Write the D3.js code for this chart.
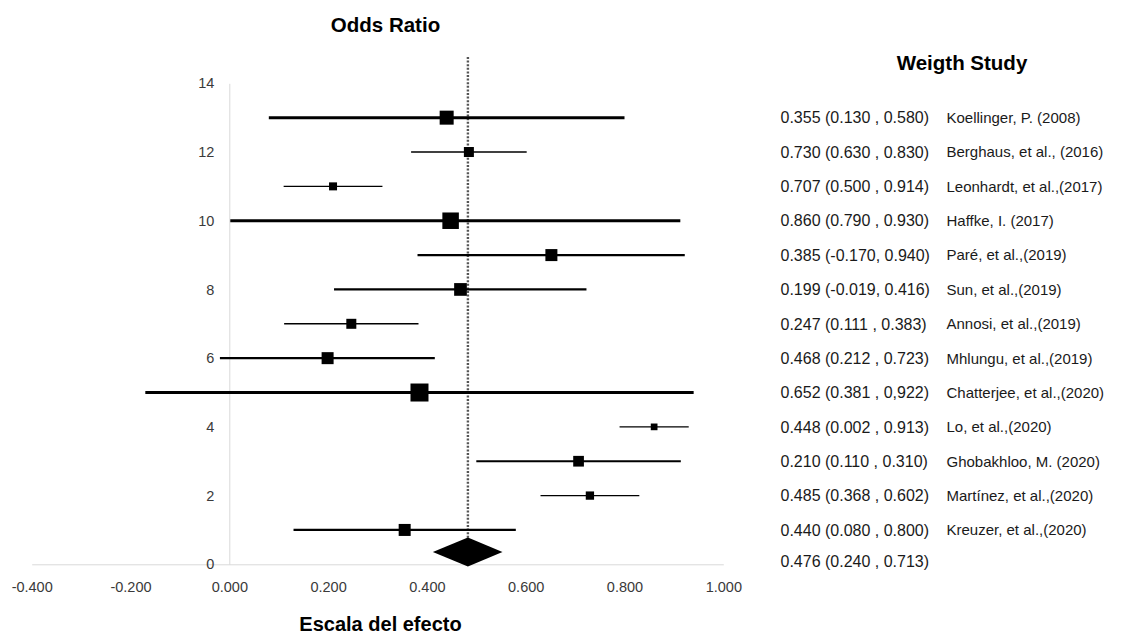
<!DOCTYPE html>
<html>
<head>
<meta charset="utf-8">
<script src="https://cdn.jsdelivr.net/npm/d3@7"></script>
<style>
  body { margin: 0; background: #fff; }
  svg { display: block; font-family: "Liberation Sans", Arial, sans-serif; }
</style>
</head>
<body>
<svg id="chart" width="1121" height="634"></svg>
<script>
// studies, bottom row (y = 1) first
var studies = ["Koellinger, P. (2008)", "Berghaus, et al., (2016)", "Leonhardt, et al.,(2017)", "Haffke, I. (2017)",
    "Paré, et al.,(2019)", "Sun, et al.,(2019)", "Annosi, et al.,(2019)", "Mhlungu, et al.,(2019)",
    "Chatterjee, et al.,(2020)", "Lo, et al.,(2020)", "Ghobakhloo, M. (2020)", "Martínez, et al.,(2020)",
    "Kreuzer, et al.,(2020)"];
var estimate = [0.355, 0.730, 0.707, 0.860, 0.385, 0.199, 0.247, 0.468, 0.652, 0.448, 0.210, 0.485, 0.440];
var lower    = [0.130, 0.630, 0.500, 0.790, -0.170, -0.019, 0.111, 0.212, 0.381, 0.002, 0.110, 0.368, 0.080];
var upper    = [0.580, 0.830, 0.914, 0.930, 0.940, 0.416, 0.383, 0.723, 0.922, 0.913, 0.310, 0.602, 0.800];
// relative study weight
var weight   = [12, 8.3, 10.7, 6.7, 18, 12, 10, 12.7, 12, 16.5, 8, 10, 14];
// label column text, listed top to bottom as printed
var ciText = ["0.355 (0.130 , 0.580)", "0.730 (0.630 , 0.830)", "0.707 (0.500 , 0.914)", "0.860 (0.790 , 0.930)",
    "0.385 (-0.170, 0.940)", "0.199 (-0.019, 0.416)", "0.247 (0.111 , 0.383)", "0.468 (0.212 , 0.723)",
    "0.652 (0.381 , 0,922)", "0.448 (0.002 , 0.913)", "0.210 (0.110 , 0.310)", "0.485 (0.368 , 0.602)",
    "0.440 (0.080 , 0.800)"];
var pooledText = "0.476 (0.240 , 0.713)";
// pooled diamond as drawn
var pooledX = [0.412, 0.483, 0.553];
var pooledRow = 0.36;
var refLine = 0.483;

var xTicks = [-0.4, -0.2, 0, 0.2, 0.4, 0.6, 0.8, 1.0];
var yTicks = [0, 2, 4, 6, 8, 10, 12, 14];

var svg = d3.select("#chart");

var x = d3.scaleLinear().domain([-0.4, 1.0]).range([31.7, 723.3]);
var y = d3.scaleLinear().domain([0, 14]).range([564.3, 83.3]);
var size = d3.scaleLinear().domain([0, d3.max(weight)]).range([0, 18]);
var lineW = d3.scaleThreshold().domain([10.5, 13.5]).range([1.4, 2.2, 3]);

//// axes
var xAxis = d3.axisBottom(x).tickValues(xTicks).tickSize(0)
    .tickFormat(function (d) { return d.toFixed(3); });
var gx = svg.append("g").attr("transform", "translate(0," + y(0) + ")").call(xAxis);
gx.select(".domain").attr("stroke", "#d9d9d9");
gx.selectAll(".tick text").attr("y", 28).attr("dy", 0)
    .attr("fill", "#3a3a3a").style("font-size", "14.5px").style("font-family", "Liberation Sans, Arial");

var yAxis = d3.axisLeft(y).tickValues(yTicks).tickSize(0).tickPadding(15);
var gy = svg.append("g").attr("transform", "translate(" + x(0) + ",0)").call(yAxis);
gy.select(".domain").attr("stroke", "#d9d9d9");
gy.selectAll(".tick text")
    .attr("fill", "#3a3a3a").style("font-size", "14.5px").style("font-family", "Liberation Sans, Arial");

//// reference line
svg.append("line")
    .attr("x1", x(refLine)).attr("x2", x(refLine))
    .attr("y1", 57).attr("y2", y(0))
    .attr("stroke", "#555").attr("stroke-width", 2.4).attr("stroke-dasharray", "2,1.6");

//// confidence intervals and squares
var rows = studies.map(function (s, i) {
    return { name: s, row: i + 1, est: estimate[i], lo: lower[i], hi: upper[i], w: weight[i] };
});

var g = svg.append("g");
g.selectAll(".ci").data(rows).enter().append("line")
    .attr("class", "ci")
    .attr("x1", function (d) { return x(d.lo); })
    .attr("x2", function (d) { return x(d.hi); })
    .attr("y1", function (d) { return y(d.row); })
    .attr("y2", function (d) { return y(d.row); })
    .attr("stroke", "#000")
    .attr("stroke-width", function (d) { return lineW(d.w); });

g.selectAll(".box").data(rows).enter().append("rect")
    .attr("class", "box")
    .attr("x", function (d) { return x(d.est) - size(d.w) / 2; })
    .attr("y", function (d) { return y(d.row) - size(d.w) / 2; })
    .attr("width", function (d) { return size(d.w); })
    .attr("height", function (d) { return size(d.w); })
    .attr("fill", "#000");

//// pooled diamond
var dh = 14.5;
svg.append("path")
    .attr("d", "M" + x(pooledX[0]) + "," + y(pooledRow) +
        "L" + x(pooledX[1]) + "," + (y(pooledRow) - dh) +
        "L" + x(pooledX[2]) + "," + y(pooledRow) +
        "L" + x(pooledX[1]) + "," + (y(pooledRow) + dh) + "Z")
    .attr("fill", "#000");

//// label column
var lab = svg.append("g").attr("fill", "#1a1a1a");
lab.selectAll(".ci-text").data(ciText).enter().append("text")
    .attr("class", "ci-text")
    .attr("x", 780.5)
    .attr("y", function (d, i) { return y(13 - i); })
    .attr("dy", "0.36em")
    .style("font-size", "16px")
    .text(function (d) { return d; });

lab.selectAll(".name-text").data(studies).enter().append("text")
    .attr("class", "name-text")
    .attr("x", 946.5)
    .attr("y", function (d, i) { return y(13 - i); })
    .attr("dy", "0.36em")
    .style("font-size", "15px")
    .text(function (d) { return d; });

lab.append("text")
    .attr("x", 780.5).attr("y", y(0.1)).attr("dy", "0.36em")
    .style("font-size", "16px")
    .text(pooledText);

//// titles
svg.append("text").attr("x", 385.5).attr("y", 32).attr("text-anchor", "middle")
    .style("font-size", "20.5px").style("font-weight", "bold").text("Odds Ratio");
svg.append("text").attr("x", 962).attr("y", 70).attr("text-anchor", "middle")
    .style("font-size", "20.5px").style("font-weight", "bold").text("Weigth Study");
svg.append("text").attr("x", 380.5).attr("y", 631).attr("text-anchor", "middle")
    .style("font-size", "20px").style("font-weight", "bold").text("Escala del efecto");
</script>
</body>
</html>
